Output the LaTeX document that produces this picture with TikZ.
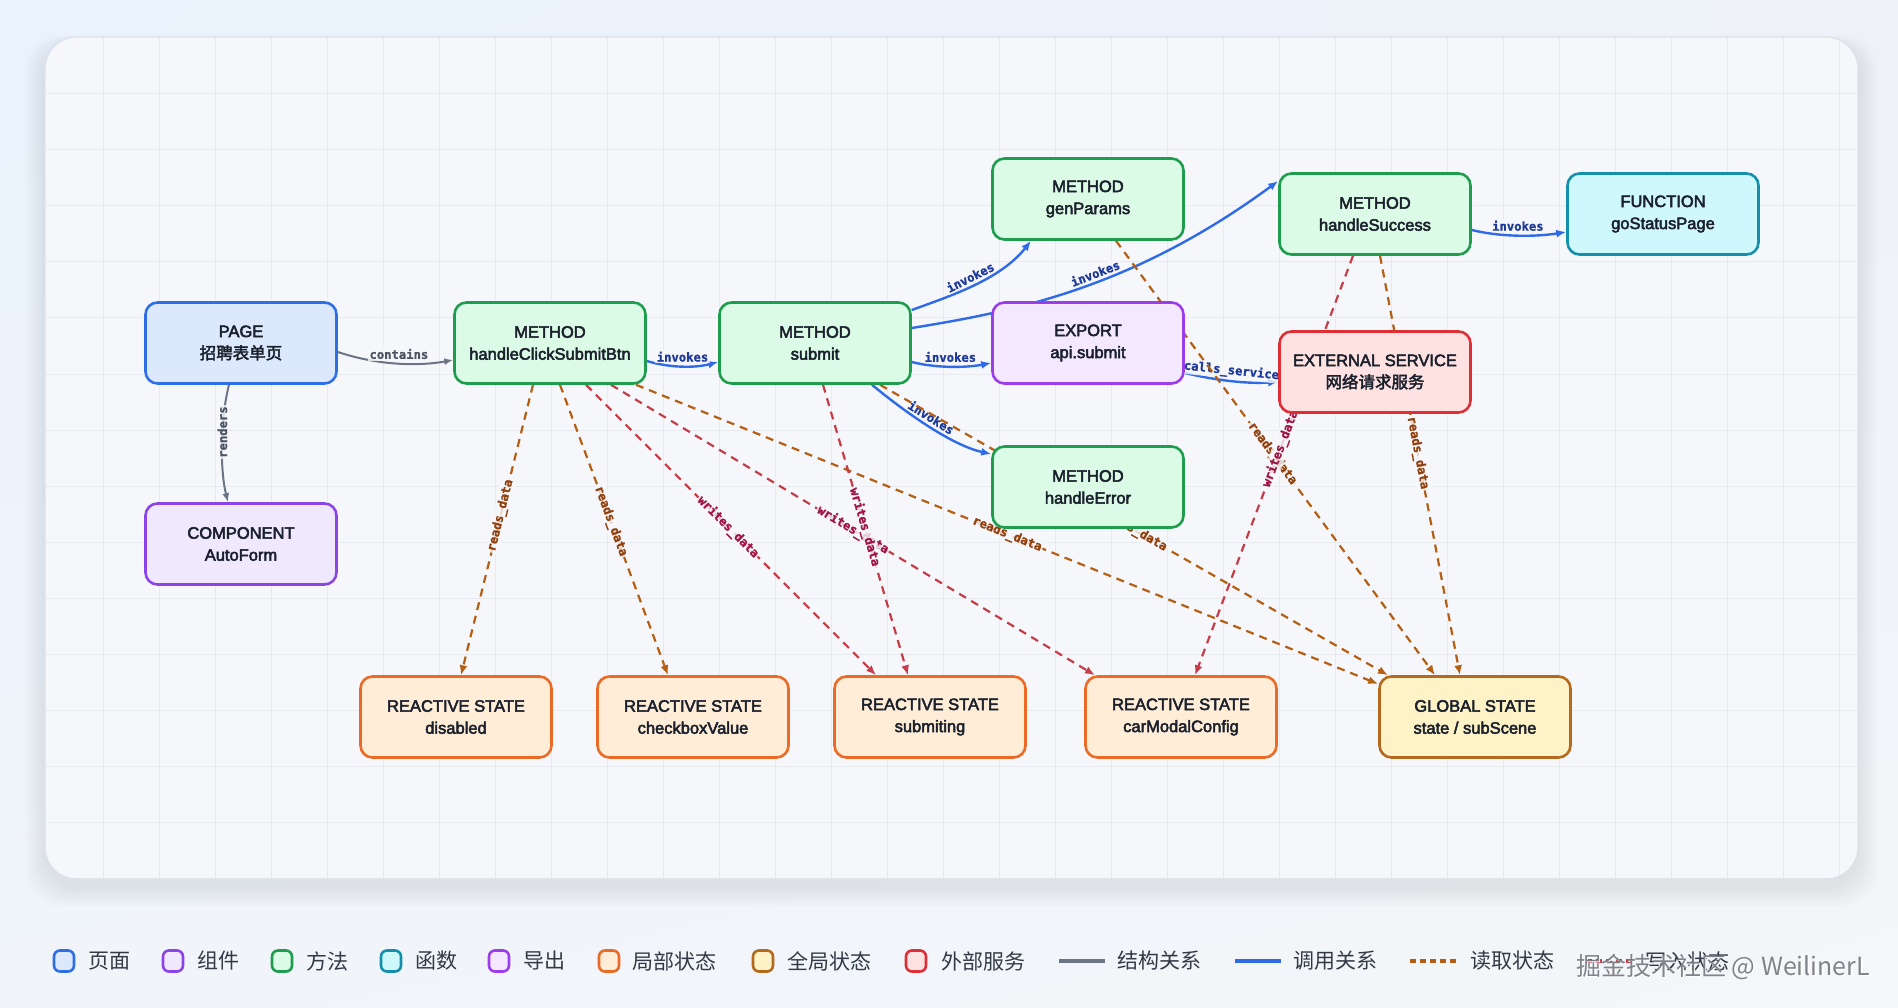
\documentclass[tikz,border=0pt]{standalone}
\usepackage{fontspec}
\setmainfont{Liberation Sans}
\newfontfamily\nodefont{Liberation Sans}[FakeBold=3]
\newfontfamily\cjk{Noto Sans CJK SC}
\newfontfamily\cjkb{Noto Sans CJK SC}[FakeBold=2.5]
\newfontfamily\lblfont{DejaVu Sans Mono}[FakeBold=1.2]
\usetikzlibrary{arrows.meta,shadings}
\pgfdeclarelayer{bglayer}
\pgfdeclarelayer{edgelayer}
\pgfsetlayers{bglayer,edgelayer,main}

\definecolor{bgUL}{HTML}{E9F2FD}
\definecolor{bgUR}{HTML}{EEF2F8}
\definecolor{bgLL}{HTML}{F1F5FA}
\definecolor{bgLR}{HTML}{F4F6F9}
\definecolor{panelbg}{HTML}{F5F7FA}
\definecolor{panelborder}{HTML}{DDE2EA}
\definecolor{gridc}{HTML}{E7EBF0}
\definecolor{txt}{HTML}{1A202C}
\definecolor{legtext}{HTML}{323A46}
\definecolor{blueline}{HTML}{2F6BE8}
\definecolor{invtext}{HTML}{1E3A9A}
\definecolor{grayline}{HTML}{6B7586}
\definecolor{graytext}{HTML}{4B5563}
\definecolor{readc}{HTML}{B45F14}
\definecolor{readtext}{HTML}{92400E}
\definecolor{writec}{HTML}{C63D4A}
\definecolor{writetext}{HTML}{A01545}
\definecolor{pageB}{HTML}{2F6FE6}\definecolor{pageF}{HTML}{DCE9FD}
\definecolor{compB}{HTML}{8B45E6}\definecolor{compF}{HTML}{F0E9FD}
\definecolor{methB}{HTML}{1F9D4F}\definecolor{methF}{HTML}{DCFBE6}
\definecolor{funcB}{HTML}{1590AA}\definecolor{funcF}{HTML}{CFF8FC}
\definecolor{expB}{HTML}{9B3DEA}\definecolor{expF}{HTML}{F3E8FF}
\definecolor{rstB}{HTML}{EA6A26}\definecolor{rstF}{HTML}{FFEDD8}
\definecolor{gstB}{HTML}{B3691E}\definecolor{gstF}{HTML}{FEF3C7}
\definecolor{extB}{HTML}{DC2F36}\definecolor{extF}{HTML}{FEE2E2}
\definecolor{wmc}{HTML}{74777E}

\tikzset{
  box/.style={draw, line width=2.6pt, rounded corners=12pt, minimum width=191pt,
    minimum height=81pt, inner sep=0pt, align=center, text=txt,
    font=\nodefont\fontsize{16.5}{22}\selectfont},
  pagebox/.style={box, draw=pageB, fill=pageF},
  compbox/.style={box, draw=compB, fill=compF},
  methbox/.style={box, draw=methB, fill=methF},
  funcbox/.style={box, draw=funcB, fill=funcF},
  expbox/.style={box, draw=expB, fill=expF},
  rstbox/.style={box, draw=rstB, fill=rstF},
  gstbox/.style={box, draw=gstB, fill=gstF},
  extbox/.style={box, draw=extB, fill=extF},
  lbl/.style={font=\lblfont\bfseries\fontsize{12.2}{12}\selectfont, inner sep=1.5pt,
    fill=panelbg, fill opacity=0.8, text opacity=1},
  lblinv/.style={lbl, text=invtext},
  lblgray/.style={lbl, text=graytext},
  lblread/.style={lbl, text=readtext},
  lblwrite/.style={lbl, text=writetext},
  edgeinv/.style={draw=blueline, line width=2.4pt, -{Latex[length=10pt,width=8pt]}},
  edgestr/.style={draw=grayline, line width=2pt, -{Latex[length=9pt,width=7pt]}},
  edgeread/.style={draw=readc, line width=2.2pt, dash pattern=on 8pt off 6pt,
    -{Latex[length=10pt,width=8pt]}},
  edgewrite/.style={draw=writec, line width=2.2pt, dash pattern=on 8pt off 6pt,
    -{Latex[length=10pt,width=8pt]}},
  legicon/.style={minimum width=20pt, minimum height=21pt, rounded corners=6pt,
    line width=2.6pt, inner sep=0pt},
  legtxt/.style={anchor=west, inner sep=0pt, text=legtext,
    font=\cjk\fontsize{21}{21}\selectfont},
}

\begin{document}
\begin{tikzpicture}[x=1pt, y=-1pt]
\useasboundingbox (0,0) rectangle (1898,1008);

\begin{pgfonlayer}{bglayer}
  \shade[upper left=bgUL, upper right=bgUR, lower left=bgLL, lower right=bgLR]
    (0,0) rectangle (1898,1008);
  \foreach \i in {1,...,10}
    \fill[black, opacity=0.009, rounded corners=36pt]
      (45-2*\i, 37-\i+8) rectangle (1858+2*\i, 879+2*\i+8);
  \fill[panelbg, rounded corners=32pt] (45,37) rectangle (1858,879);
  \begin{scope}
    \clip[rounded corners=32pt] (45,37) rectangle (1858,879);
    \foreach \gx in {103,159,...,1858}
      \draw[gridc, line width=1pt] (\gx,37) -- (\gx,879);
    \foreach \gy in {94,150,...,879}
      \draw[gridc, line width=1pt] (45,\gy) -- (1858,\gy);
  \end{scope}
  \draw[panelborder, line width=1.2pt, rounded corners=32pt] (45,37) rectangle (1858,879);
\end{pgfonlayer}

% ---------- nodes ----------
\node[pagebox] (page) at (241,343) {PAGE\\{\cjkb 招聘表单页}};
\node[compbox] (comp) at (241,544) {COMPONENT\\AutoForm};
\node[methbox] (hcsb) at (550,343) {METHOD\\handleClickSubmitBtn};
\node[methbox] (submit) at (815,343) {METHOD\\submit};
\node[methbox] (gen) at (1088,199) {METHOD\\genParams};
\node[expbox] (api) at (1088,343) {EXPORT\\api.submit};
\node[methbox] (herr) at (1088,487) {METHOD\\handleError};
\node[methbox] (hsucc) at (1375,214) {METHOD\\handleSuccess};
\node[funcbox] (gosp) at (1663,214) {FUNCTION\\goStatusPage};
\node[extbox] (ext) at (1375,372) {EXTERNAL SERVICE\\{\cjkb 网络请求服务}};
\node[rstbox] (dis) at (456,717) {REACTIVE STATE\\disabled};
\node[rstbox] (chk) at (693,717) {REACTIVE STATE\\checkboxValue};
\node[rstbox] (subm) at (930,717) {REACTIVE STATE\\submiting};
\node[rstbox] (car) at (1181,717) {REACTIVE STATE\\carModalConfig};
\node[gstbox] (glob) at (1475,717) {GLOBAL STATE\\state / subScene};

% ---------- edges ----------
\begin{pgfonlayer}{edgelayer}
  % structure
  \draw[edgestr] ([yshift=-9pt]page.east) .. controls (380,366) and (420,366) ..
    ([yshift=-17pt]hcsb.west) node[lblgray, pos=0.5, above=2pt] {contains};
  \draw[edgestr] ([xshift=-12pt]page.south) .. controls (220,420) and (220,470) ..
    ([xshift=-13pt]comp.north) node[lblgray, pos=0.4, rotate=90] {renders};
  % invokes
  \draw[edgeinv] ([yshift=-18pt]hcsb.east) .. controls (670,368) and (695,368) ..
    ([yshift=-19pt]submit.west) node[lblinv, pos=0.5, above=2pt] {invokes};
  \draw[edgeinv] ([yshift=33pt]submit.east) .. controls (950,296) and (1000,280) ..
    ([xshift=-57pt]gen.south) node[lblinv, pos=0.5, sloped, above=1pt] {invokes};
  \draw[edgeinv] ([yshift=15pt]submit.east) .. controls (1010,312) and (1130,290) ..
    ([yshift=33pt]hsucc.west) node[lblinv, pos=0.56, sloped, above=1pt] {invokes};
  \draw[edgeinv] ([yshift=-19pt]submit.east) .. controls (935,368) and (965,368) ..
    ([yshift=-20pt]api.west) node[lblinv, pos=0.5, above=2pt] {invokes};
  \draw[edgeinv] ([xshift=57pt]submit.south) .. controls (900,408) and (950,445) ..
    ([yshift=33pt]herr.west) node[lblinv, pos=0.5, sloped, above=1pt] {invokes};
  \draw[edgeinv] ([yshift=-30pt]api.east) .. controls (1215,380) and (1245,384) ..
    ([yshift=-10pt]ext.west) node[lblinv, pos=0.5, sloped, above=1pt] {calls\_service};
  \draw[edgeinv] ([yshift=-16pt]hsucc.east) .. controls (1500,237) and (1535,237) ..
    ([yshift=-18pt]gosp.west) node[lblinv, pos=0.5, above=2pt] {invokes};
  % reads / writes from handleClickSubmitBtn
  \draw[edgeread] ([xshift=-17pt]hcsb.south) --
    node[lblread, sloped, pos=0.45] {reads\_data} ([xshift=5pt]dis.north);
  \draw[edgeread] ([xshift=10pt]hcsb.south) --
    node[lblread, sloped, pos=0.47] {reads\_data} ([xshift=-25pt]chk.north);
  \draw[edgewrite] ([xshift=36pt]hcsb.south) --
    node[lblwrite, sloped, pos=0.49] {writes\_data} ([xshift=-54pt]subm.north);
  \draw[edgewrite] ([xshift=61pt]hcsb.south) --
    node[lblwrite, sloped, pos=0.5] {writes\_data} ([xshift=-86pt]car.north);
  \draw[edgeread] ([xshift=86pt]hcsb.south) --
    node[lblread, sloped, pos=0.5] {reads\_data} ([yshift=33pt]glob.west);
  % from submit
  \draw[edgewrite] ([xshift=8pt]submit.south) --
    node[lblwrite, sloped, pos=0.49] {writes\_data} ([xshift=-22pt]subm.north);
  \draw[edgeread] ([xshift=65pt]submit.south) --
    node[lblread, sloped, pos=0.5] {reads\_data} ([xshift=-87pt]glob.north);
  % from genParams
  \draw[edgeread] ([xshift=28pt]gen.south) --
    node[lblread, sloped, pos=0.49] {reads\_data} ([xshift=-40pt]glob.north);
  % from handleSuccess
  \draw[edgewrite] ([xshift=-22pt]hsucc.south) --
    node[lblwrite, sloped, pos=0.46] {writes\_data} ([xshift=14pt]car.north);
  \draw[edgeread] ([xshift=5pt]hsucc.south) --
    node[lblread, sloped, pos=0.47] {reads\_data} ([xshift=-15pt]glob.north);
\end{pgfonlayer}

% ---------- legend ----------
\node[legicon, draw=pageB, fill=pageF] (lg1) at (64,961) {};
\node[legtxt] (lt1) at (88,961) {页面};
\node[legicon, draw=compB, fill=compF] (lg2) at (173,961) {};
\node[legtxt] (lt2) at (197,961) {组件};
\node[legicon, draw=methB, fill=methF] (lg3) at (282,961) {};
\node[legtxt] (lt3) at (306,961) {方法};
\node[legicon, draw=funcB, fill=funcF] (lg4) at (391,961) {};
\node[legtxt] (lt4) at (415,961) {函数};
\node[legicon, draw=expB, fill=expF] (lg5) at (499,961) {};
\node[legtxt] (lt5) at (523,961) {导出};
\node[legicon, draw=rstB, fill=rstF] (lg6) at (609,961) {};
\node[legtxt] (lt6) at (632,961) {局部状态};
\node[legicon, draw=gstB, fill=gstF] (lg7) at (763,961) {};
\node[legtxt] (lt7) at (787,961) {全局状态};
\node[legicon, draw=extB, fill=extF] (lg8) at (916,961) {};
\node[legtxt] (lt8) at (941,961) {外部服务};
\draw[grayline, line width=4pt] (1059,961) -- (1105,961);
\node[legtxt] (lt9) at (1117,961) {结构关系};
\draw[blueline, line width=4pt] (1235,961) -- (1281,961);
\node[legtxt] (lt10) at (1293,961) {调用关系};
\draw[readc, line width=4pt, dash pattern=on 6pt off 4pt] (1410,961) -- (1457,961);
\node[legtxt] (lt11) at (1470,961) {读取状态};
\draw[writec, line width=4pt, dash pattern=on 6pt off 4pt] (1586,961) -- (1632,961);
\node[legtxt] (lt12) at (1645,961) {写入状态};

% watermark
\node[anchor=west, inner sep=0pt, text=white, font=\cjk\fontsize{25}{25}\selectfont]
  (wmshadow) at (1577.5,968.5) {掘金技术社区 @ WeilinerL};
\node[anchor=west, inner sep=0pt, text=wmc, text opacity=0.9, font=\cjk\fontsize{25}{25}\selectfont]
  (wm) at (1576,967) {掘金技术社区 @ WeilinerL};
\end{tikzpicture}
\end{document}
